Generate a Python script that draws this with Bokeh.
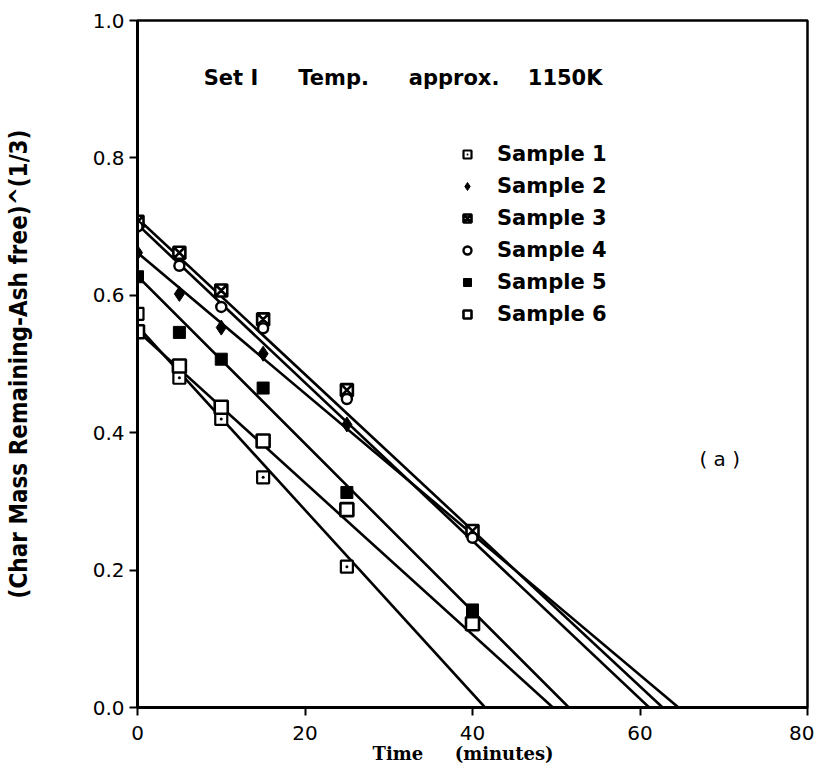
from bokeh.plotting import figure
from bokeh.models import Label, Range1d, Legend, LegendItem, CustomJSTickFormatter
from bokeh.embed import file_html
from bokeh.resources import INLINE

# ---- data ----
t_short = [0, 5, 10, 15, 25]
t_full = [0, 5, 10, 15, 25, 40]
sample1 = [0.573, 0.480, 0.420, 0.335, 0.205]
sample2 = [0.662, 0.602, 0.553, 0.515, 0.412, 0.250]
sample3 = [0.707, 0.662, 0.607, 0.565, 0.462, 0.257]
sample4 = [0.700, 0.643, 0.583, 0.552, 0.449, 0.247]
sample5 = [0.627, 0.546, 0.507, 0.465, 0.313, 0.142]
sample6 = [0.547, 0.497, 0.437, 0.388, 0.288, 0.122]
sample_names = ["Sample 1", "Sample 2", "Sample 3", "Sample 4", "Sample 5", "Sample 6"]
# fitted lines: value at t=0 and time at which they reach zero
fit_start = [0.555, 0.662, 0.712, 0.703, 0.628, 0.548]
fit_zero_time = [41.5, 64.6, 62.7, 61.1, 51.5, 49.6]
x_ticks = [0, 20, 40, 60, 80]
y_ticks = [0.0, 0.2, 0.4, 0.6, 0.8, 1.0]

p = figure(width=814, height=766, output_backend="svg", toolbar_location=None,
           x_range=Range1d(0, 80), y_range=Range1d(0, 1.0),
           min_border_left=137, min_border_right=7, min_border_top=20, min_border_bottom=58)
p.grid.visible = False
p.background_fill_color = "white"
p.border_fill_color = "white"
p.outline_line_color = "black"
p.outline_line_width = 2.5
p.outline_line_alpha = 1.0

for ax in (p.xaxis[0], p.yaxis[0]):
    ax.axis_line_width = 3
    ax.axis_line_color = "black"
    ax.major_tick_line_width = 2
    ax.major_tick_out = 8
    ax.major_tick_in = 0
    ax.minor_tick_line_width = 2
    ax.minor_tick_out = 3
    ax.minor_tick_in = 3
    ax.major_label_text_font = "DejaVu Sans"
    ax.major_label_text_font_size = "20px"
    ax.major_label_text_color = "black"
    ax.axis_label_text_font_style = "bold"
    ax.axis_label_text_color = "black"

p.xaxis.ticker = x_ticks
p.xaxis[0].ticker.num_minor_ticks = 2
p.yaxis.ticker = y_ticks
p.yaxis[0].ticker.num_minor_ticks = 2
p.yaxis.formatter = CustomJSTickFormatter(code="return tick.toFixed(1);")
p.xaxis.major_label_standoff = 10
p.yaxis.major_label_standoff = 5

p.xaxis.axis_label = "Time\u00a0\u00a0\u00a0\u00a0\u00a0(minutes)\u00a0\u00a0\u00a0"
p.xaxis.axis_label_text_font = "DejaVu Serif"
p.xaxis.axis_label_text_font_size = "18px"
p.xaxis.axis_label_standoff = 0
p.yaxis.axis_label = "(Char Mass Remaining-Ash free)^(1/3)"
p.yaxis.axis_label_text_font = "DejaVu Sans Condensed"
p.yaxis.axis_label_text_font_size = "24px"
p.yaxis.axis_label_standoff = 57

# fitted lines
for s0, tz in zip(fit_start, fit_zero_time):
    p.line([0, tz], [s0, 0], line_color="black", line_width=2.6)

# markers
r1 = p.scatter(t_short, sample1, marker="square_dot", size=12, fill_color="white",
               line_color="black", line_width=2.2)
r2 = p.scatter(t_full, sample2, marker="diamond", size=15, fill_color="black",
               line_color="black", line_width=1)
r3 = p.scatter(t_full, sample3, marker="square_x", size=12, fill_color="white",
               line_color="black", line_width=2.6)
r4 = p.scatter(t_full, sample4, marker="circle", size=10, fill_color="white",
               line_color="black", line_width=2.4)
r5 = p.scatter(t_full, sample5, marker="square", size=12, fill_color="black",
               line_color="black", line_width=1)
r6 = p.scatter(t_full, sample6, marker="square", size=13, fill_color="white",
               line_color="black", line_width=2.6)
renderers = [r1, r2, r3, r4, r5, r6]

legend = Legend(items=[LegendItem(label=n, renderers=[r]) for n, r in zip(sample_names, renderers)],
                location=(320, 381), orientation="vertical",
                label_text_font="DejaVu Sans", label_text_font_size="21px",
                label_text_font_style="bold", label_text_color="black",
                glyph_width=20, glyph_height=20, label_height=20,
                spacing=8, label_standoff=20, padding=0, margin=0,
                border_line_color=None, background_fill_alpha=0)
p.add_layout(legend)

# title words
for txt, xx in zip(["Set I", "Temp.", "approx.", "1150K"], [7.9, 19.2, 32.4, 46.6]):
    p.add_layout(Label(x=xx, y=0.916, text=txt, text_font="DejaVu Sans", text_font_size="21px",
                       text_font_style="bold", text_baseline="middle", text_color="black"))

p.add_layout(Label(x=67.1, y=0.362, text="( a )", text_font="DejaVu Sans",
                   text_font_size="20px", text_baseline="middle", text_color="black"))

open("out.html", "w").write(file_html(p, INLINE))
